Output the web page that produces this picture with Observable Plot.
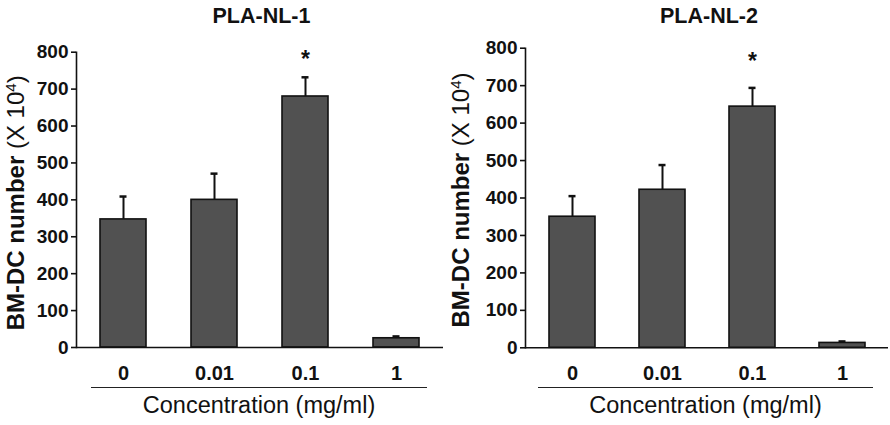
<!DOCTYPE html>
<html>
<head>
<meta charset="utf-8">
<script src="https://cdn.jsdelivr.net/npm/d3@7"></script>
<script src="https://cdn.jsdelivr.net/npm/@observablehq/plot@0.6"></script>
<style>
  body { margin: 0; background: #fff; }
  #chart { display: flex; width: 890px; height: 425px; font-family: "Liberation Sans", Arial, sans-serif; color: #111; }
  .panel { position: relative; width: 445px; height: 425px; }
  .panel svg { position: absolute; left: 0; top: 0; }
  .title { position: absolute; top: 6px; transform: translateX(-50%); font-size: 21.5px; line-height: 21px; font-weight: bold; white-space: nowrap; }
  .caption { position: absolute; top: 387px; border-top: 1.5px solid #222; padding-top: 6px; text-align: center; font-size: 23.5px; line-height: 23px; white-space: nowrap; }
</style>
</head>
<body>
<div id="chart"></div>
<script>
// Bone-marrow DC counts by nanoparticle concentration (mean and SD, ×10^4 cells)
const concentrations = ["0", "0.01", "0.1", "1"];
const nl1Mean = [347, 400, 680, 25];
const nl1Err = [62, 71, 52, 5];
const nl2Mean = [350, 422, 644, 13];
const nl2Err = [55, 66, 50, 4];
const significant = [false, false, true, false];
const yTicks = [0, 100, 200, 300, 400, 500, 600, 700, 800];
const panelTitles = ["PLA-NL-1", "PLA-NL-2"];
const xLabel = "Concentration (mg/ml)";
const yLabel = "BM-DC number (X 10^4)";

function rows(means, errs) {
  return concentrations.map((c, i) => ({
    conc: c, mean: means[i], err: errs[i], hi: means[i] + errs[i], star: significant[i]
  }));
}

function panel({means, errs, title, marginLeft, marginTop, marginBottom, titleX, lineLeft, lineWidth, starDy, labelDy}) {
  const data = rows(means, errs);
  const plot = Plot.plot({
    width: 445,
    height: 425,
    marginLeft,
    marginRight: 2,
    marginTop,
    marginBottom,
    style: {fontFamily: "Liberation Sans, Arial, sans-serif", color: "#111", background: "white"},
    x: {domain: concentrations, paddingInner: 0.49, paddingOuter: 0.245, label: null},
    y: {domain: [0, 800], label: null},
    marks: [
      Plot.frame({anchor: "left", stroke: "#111", strokeWidth: 1.6}),
      Plot.axisY({ticks: yTicks, tickSize: 5, tickPadding: 3, fontSize: 19, fontWeight: "bold", label: null, strokeWidth: 1.6, stroke: "#111"}),
      Plot.axisX({tickSize: 0, tickPadding: 18, fontSize: 20, fontWeight: "bold", label: null}),
      Plot.ruleX(data, {x: "conc", y1: "mean", y2: "hi", stroke: "#111", strokeWidth: 2}),
      Plot.tickY(data, {x: "conc", y: "hi", stroke: "#111", strokeWidth: 2.5, insetLeft: 19.5, insetRight: 19.5}),
      Plot.barY(data, {x: "conc", y: "mean", fill: "#515151", stroke: "#111", strokeWidth: 1.6}),
      Plot.ruleY([0], {stroke: "#111", strokeWidth: 1.6}),
      Plot.text(data.filter(d => d.star), {x: "conc", y: "hi", text: () => "*", lineAnchor: "bottom", dy: starDy, fontSize: 23, fontWeight: "bold", fill: "#111"}),
      Plot.text([yLabel], {frameAnchor: "left", textAnchor: "middle", rotate: -90, dx: 23 - marginLeft, dy: labelDy, lineAnchor: "bottom", fontSize: 24, fill: "#111", text: d => d})
    ]
  });

  // Mixed-weight axis label with a superscript exponent
  d3.select(plot).selectAll("text").filter(function () { return this.textContent === yLabel; })
    .each(function () {
      const t = d3.select(this).text(null);
      t.append("tspan").attr("font-weight", "bold").text("BM-DC number ");
      t.append("tspan").attr("font-weight", "normal").text("(X 10");
      t.append("tspan").attr("font-weight", "normal").attr("font-size", "15").attr("baseline-shift", "super").text("4");
      t.append("tspan").attr("font-weight", "normal").text(")");
    });

  const div = document.createElement("div");
  div.className = "panel";
  div.appendChild(plot);
  const h = document.createElement("div");
  h.className = "title";
  h.style.left = titleX + "px";
  h.textContent = title;
  div.appendChild(h);
  const cap = document.createElement("div");
  cap.className = "caption";
  cap.style.left = lineLeft + "px";
  cap.style.width = lineWidth + "px";
  cap.textContent = xLabel;
  div.appendChild(cap);
  return div;
}

const chart = document.getElementById("chart");
chart.appendChild(panel({means: nl1Mean, errs: nl1Err, title: panelTitles[0], marginLeft: 76, marginTop: 51.7, marginBottom: 78, titleX: 261.5, lineLeft: 91, lineWidth: 336, starDy: -10, labelDy: 3}));
chart.appendChild(panel({means: nl2Mean, errs: nl2Err, title: panelTitles[1], marginLeft: 80, marginTop: 47.7, marginBottom: 77.7, titleX: 264, lineLeft: 93, lineWidth: 335, starDy: -19, labelDy: 2}));
</script>
</body>
</html>
